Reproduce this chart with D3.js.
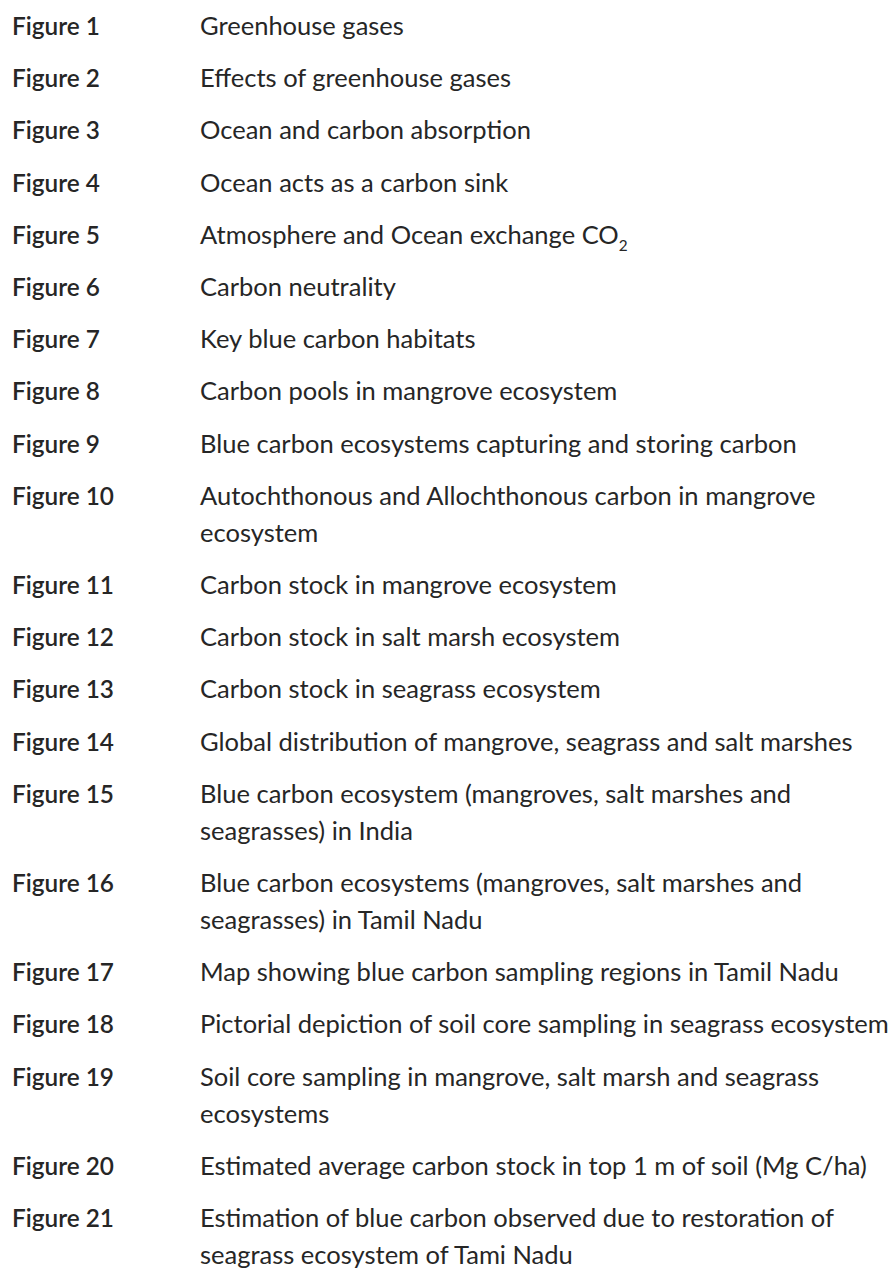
<!DOCTYPE html>
<html>
<head>
<meta charset="utf-8">
<script src="https://cdn.jsdelivr.net/npm/d3@7"></script>
<style>
  html, body { margin: 0; padding: 0; background: #ffffff; }
  svg { display: block; }
</style>
</head>
<body>
<div id="listVis"></div>
<script>
//########################## Data ###########################################

var figureLabels = ["Figure 1","Figure 2","Figure 3","Figure 4","Figure 5","Figure 6","Figure 7",
	"Figure 8","Figure 9","Figure 10","Figure 11","Figure 12","Figure 13","Figure 14",
	"Figure 15","Figure 16","Figure 17","Figure 18","Figure 19","Figure 20","Figure 21"];

//each title is kept as the lines it is broken into; "_2" marks a subscript 2
var figureTitles = [
	["Greenhouse gases"],
	["Effects of greenhouse gases"],
	["Ocean and carbon absorption"],
	["Ocean acts as a carbon sink"],
	["Atmosphere and Ocean exchange CO_2"],
	["Carbon neutrality"],
	["Key blue carbon habitats"],
	["Carbon pools in mangrove ecosystem"],
	["Blue carbon ecosystems capturing and storing carbon"],
	["Autochthonous and Allochthonous carbon in mangrove", "ecosystem"],
	["Carbon stock in mangrove ecosystem"],
	["Carbon stock in salt marsh ecosystem"],
	["Carbon stock in seagrass ecosystem"],
	["Global distribution of mangrove, seagrass and salt marshes"],
	["Blue carbon ecosystem (mangroves, salt marshes and", "seagrasses) in India"],
	["Blue carbon ecosystems (mangroves, salt marshes and", "seagrasses) in Tamil Nadu"],
	["Map showing blue carbon sampling regions in Tamil Nadu"],
	["Pictorial depiction of soil core sampling in seagrass ecosystem"],
	["Soil core sampling in mangrove, salt marsh and seagrass", "ecosystems"],
	["Estimated average carbon stock in top 1 m of soil (Mg C/ha)"],
	["Estimation of blue carbon observed due to restoration of", "seagrass ecosystem of Tami Nadu"]
];

//########################## Layout #########################################

var width = 894;
var height = 1276;
var labelX = 12;
var titleX = 200;
var firstBaseline = 35;
var itemStep = 52.2;		//from one entry to the next
var lineStep = 37;			//extra line inside one entry
var textColor = "#262626";
var fontFamily = "Lato, 'Noto Sans', sans-serif";

var svg = d3.select("#listVis")
			.append("svg")
			.attr("width",width)
			.attr("height",height);

//fit font sizes so that known strings have the widths seen in the picture
function fitSize(str, weight, targetWidth){
	var t = svg.append("text")
		.attr("font-family",fontFamily)
		.attr("font-weight",weight)
		.attr("font-size",100)
		.text(str);
	var w = t.node().getComputedTextLength();
	t.remove();
	return 100 * targetWidth / w;
}
var titleSize = fitSize("Blue carbon ecosystems capturing and storing carbon", 400, 597);
var labelSize = fitSize("Figure 10", 600, 102);

//line slot of each entry: entry index plus the extra lines before it
var rows = [];
var extra = 0;
figureLabels.forEach(function(lab,i){
	rows.push({label: lab, lines: figureTitles[i], index: i, extra: extra});
	extra += figureTitles[i].length - 1;
});

var yEntry = d3.scaleLinear().domain([0,1]).range([firstBaseline, firstBaseline + itemStep]);
function rowY(d){ return yEntry(d.index) + d.extra * lineStep; }

var entries = svg.selectAll("g.entry")
	.data(rows)
	.enter().append("g")
		.attr("class","entry")
		.attr("transform",function(d){ return "translate(0,"+rowY(d)+")"; });

entries.append("text")
	.attr("x",labelX)
	.attr("y",0)
	.attr("font-family",fontFamily)
	.attr("font-weight",600)
	.attr("font-size",labelSize)
	.attr("fill",textColor)
	.text(function(d){ return d.label; });

entries.each(function(d){
	var g = d3.select(this);
	d.lines.forEach(function(line,k){
		var t = g.append("text")
			.attr("x",titleX)
			.attr("y",k * lineStep)
			.attr("font-family",fontFamily)
			.attr("font-size",titleSize)
			.attr("fill",textColor);
		var parts = line.split("_");
		t.append("tspan").text(parts[0]);
		if(parts.length > 1){
			t.append("tspan")
				.attr("font-size",titleSize*0.6)
				.attr("dy",titleSize*0.3)
				.text(parts[1]);
		}
	});
});
</script>
</body>
</html>
